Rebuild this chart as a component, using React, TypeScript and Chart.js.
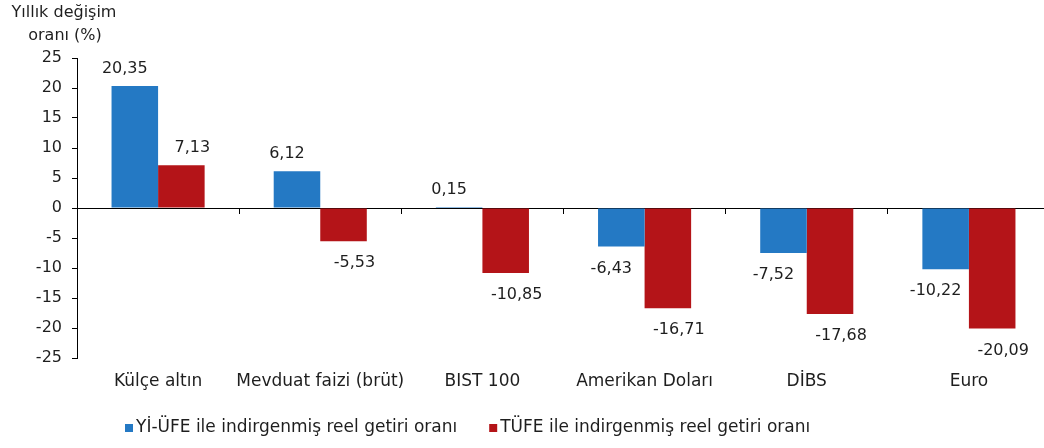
import React, { useEffect, useRef } from "react";
import { Chart, registerables } from "chart.js";

Chart.register(...registerables);

const categories = ["Külçe altın", "Mevduat faizi (brüt)", "BIST 100", "Amerikan Doları", "DİBS", "Euro"];
const seriesNames = ["Yİ-ÜFE ile indirgenmiş reel getiri oranı", "TÜFE ile indirgenmiş reel getiri oranı"];
const yiUfeValues = [20.35, 6.12, 0.15, -6.43, -7.52, -10.22];
const tufeValues = [7.13, -5.53, -10.85, -16.71, -17.68, -20.09];
const yAxisTitle = ["Yıllık değişim", "oranı (%)"];
const yMin = -25;
const yMax = 25;
const yStep = 5;

const BLUE = "#2479C4";
const RED = "#B41418";
const TEXT = "#1e1e1e";
const FONT = "'DejaVu Sans', sans-serif";

const labelOffsetsX = [-10, 11];

const dataLabelPlugin = {
  id: "dataLabels",
  afterDatasetsDraw(chart: any) {
    const ctx = chart.ctx;
    ctx.save();
    ctx.font = `16px ${FONT}`;
    ctx.fillStyle = TEXT;
    ctx.textAlign = "center";
    ctx.textBaseline = "middle";
    chart.data.datasets.forEach((ds: any, di: number) => {
      const meta = chart.getDatasetMeta(di);
      meta.data.forEach((el: any, i: number) => {
        const v = ds.data[i] as number;
        const txt = v.toFixed(2).replace(".", ",");
        const y = v >= 0 ? el.y - 17 : el.y + 22;
        ctx.fillText(txt, el.x + labelOffsetsX[di], y);
      });
    });
    ctx.restore();
  },
};

const titleLegendPlugin = {
  id: "titleLegend",
  afterDraw(chart: any) {
    const ctx = chart.ctx;
    const area = chart.chartArea;
    ctx.save();
    ctx.font = `16px ${FONT}`;
    ctx.fillStyle = TEXT;
    ctx.textAlign = "center";
    ctx.textBaseline = "alphabetic";
    ctx.fillText(yAxisTitle[0], area.left - 13, 17);
    ctx.fillText(yAxisTitle[1], area.left - 12, 40);
    ctx.font = `17px ${FONT}`;
    ctx.textAlign = "left";
    ctx.textBaseline = "middle";
    let x = area.left + 48;
    const yc = 428;
    chart.data.datasets.forEach((ds: any) => {
      ctx.fillStyle = ds.backgroundColor;
      ctx.fillRect(x, yc - 4, 8, 8);
      ctx.fillStyle = TEXT;
      ctx.fillText(ds.label, x + 11, yc);
      x += 11 + ctx.measureText(ds.label).width + 32;
    });
    ctx.restore();
  },
};

export default function App() {
  const ref = useRef<HTMLCanvasElement | null>(null);

  useEffect(() => {
    if (!ref.current) return;
    const chart = new Chart(ref.current, {
      type: "bar",
      data: {
        labels: categories,
        datasets: [
          {
            label: seriesNames[0],
            data: yiUfeValues,
            backgroundColor: BLUE,
            categoryPercentage: 0.574,
            barPercentage: 1.0,
          },
          {
            label: seriesNames[1],
            data: tufeValues,
            backgroundColor: RED,
            categoryPercentage: 0.574,
            barPercentage: 1.0,
          },
        ],
      },
      options: {
        animation: false,
        responsive: false,
        devicePixelRatio: 1,
        layout: { padding: { top: 58, left: 0, right: 10, bottom: 50 } },
        plugins: {
          legend: { display: false },
          tooltip: { enabled: false },
          title: { display: false },
        },
        scales: {
          y: {
            min: yMin,
            max: yMax,
            ticks: {
              stepSize: yStep,
              font: { family: FONT, size: 16 },
              color: TEXT,
              padding: 10,
            },
            grid: { drawOnChartArea: false, tickLength: 5, color: "#000" },
            border: { color: "#000", width: 1 },
            afterFit: (scale: any) => {
              scale.width = 77;
            },
          },
          x: {
            position: "bottom",
            grid: { display: false, drawTicks: false },
            border: { display: false },
            ticks: {
              font: { family: FONT, size: 17 },
              color: TEXT,
              padding: 13,
              maxRotation: 0,
              autoSkip: false,
            },
            afterFit: (scale: any) => {
              scale.height = 40;
            },
          },
          x2: {
            type: "category",
            axis: "x",
            labels: categories,
            position: { y: 0 },
            offset: true,
            ticks: { display: false },
            grid: {
              offset: true,
              drawOnChartArea: false,
              tickLength: 5,
              color: (c: any) => (c.index === 0 ? "rgba(0,0,0,0)" : "#000"),
            },
            border: { color: "#000", width: 1 },
          },
        } as any,
      },
      plugins: [dataLabelPlugin, titleLegendPlugin],
    });
    return () => chart.destroy();
  }, []);

  return (
    <div
      style={{
        position: "fixed",
        top: 0,
        left: 0,
        width: 1044,
        height: 448,
        overflow: "hidden",
        background: "#fff",
      }}
    >
      <canvas ref={ref} width={1060} height={448} style={{ display: "block" }} />
    </div>
  );
}
